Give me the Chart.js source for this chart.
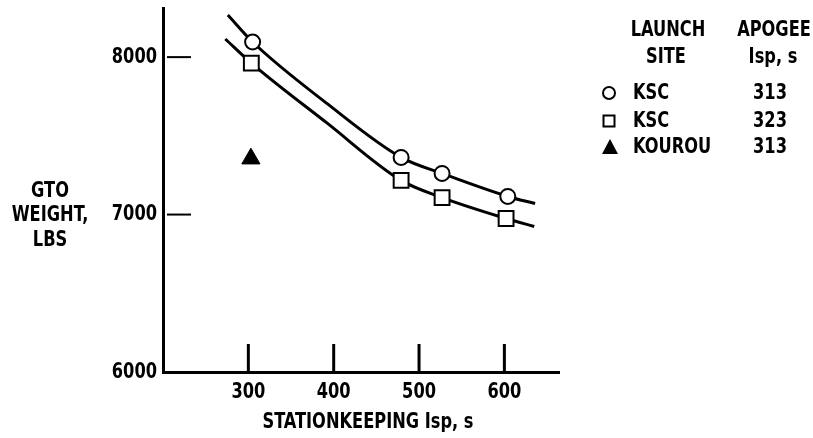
<!DOCTYPE html>
<html>
<head>
<meta charset="utf-8">
<script src="https://cdn.jsdelivr.net/npm/chart.js@4.4.0/dist/chart.umd.min.js"></script>
<style>
  html, body { margin: 0; padding: 0; background: #fff; }
  #wrap { width: 813px; height: 438px; }
</style>
</head>
<body>
<div id="wrap"><canvas id="myChart" width="813" height="438"></canvas></div>
<script>
// ticks
var xTicks = [300, 400, 500, 600];
var yTicks = [6000, 7000, 8000];

// KSC, apogee Isp 313 (circles)
var circleX = [305, 479, 527, 604];
var circleY = [8096, 7363, 7261, 7115];
// KSC, apogee Isp 323 (squares)
var squareX = [303.5, 479, 527, 602];
var squareY = [7962, 7217, 7108, 6975];
// KOUROU, apogee Isp 313 (triangle)
var triX = [303];
var triY = [7355];

// faired curves
var upperX = [276, 305, 392, 479, 527, 604, 636];
var upperY = [8267, 8096, 7706, 7363, 7261, 7115, 7070];
var lowerX = [273, 303.5, 392, 479, 527, 602, 635];
var lowerY = [8115, 7962, 7582, 7217, 7108, 6975, 6924];

var legendSites = ['KSC', 'KSC', 'KOUROU'];
var legendIsp = ['313', '323', '313'];

var FONT = '"DejaVu Sans Condensed", "Liberation Sans Narrow", sans-serif';
var SQUEEZE = 0.82;

function pts(xs, ys) {
    var out = [];
    for (var i = 0; i < xs.length; i++) out.push({ x: xs[i], y: ys[i] });
    return out;
}

// narrow, tall lettering like the original figure
function label(ctx, text, x, y, align) {
    ctx.save();
    ctx.translate(x, y);
    ctx.scale(SQUEEZE, 1);
    ctx.textAlign = align || 'center';
    ctx.fillText(text, 0, 0);
    ctx.restore();
}

var extras = {
    id: 'extras',
    afterDraw: function (chart) {
        var ctx = chart.ctx;
        var xs = chart.scales.x, ys = chart.scales.y;
        var area = chart.chartArea;
        ctx.save();
        ctx.strokeStyle = '#000';
        ctx.fillStyle = '#000';
        ctx.lineCap = 'butt';

        // inside ticks on x axis
        ctx.lineWidth = 3;
        xTicks.forEach(function (v) {
            var px = xs.getPixelForValue(v);
            ctx.beginPath();
            ctx.moveTo(px, area.bottom - 28);
            ctx.lineTo(px, area.bottom);
            ctx.stroke();
        });
        // short ticks on y axis
        ctx.lineWidth = 2;
        [7000, 8000].forEach(function (v) {
            var py = ys.getPixelForValue(v);
            ctx.beginPath();
            ctx.moveTo(area.left + 4, py);
            ctx.lineTo(area.left + 28, py);
            ctx.stroke();
        });

        ctx.font = 'bold 22px ' + FONT;
        ctx.textBaseline = 'middle';

        // tick labels
        xTicks.forEach(function (v) {
            label(ctx, String(v), xs.getPixelForValue(v), area.bottom + 20, 'center');
        });
        yTicks.forEach(function (v) {
            label(ctx, String(v), area.left - 6, ys.getPixelForValue(v), 'right');
        });

        // y title
        label(ctx, 'GTO', 50, 191);
        label(ctx, 'WEIGHT,', 50, 215);
        label(ctx, 'LBS', 50, 240);
        // x title
        label(ctx, 'STATIONKEEPING Isp, s', 368, 422);

        // legend table
        label(ctx, 'LAUNCH', 668, 30);
        label(ctx, 'SITE', 666, 57);
        label(ctx, 'APOGEE', 774, 30);
        label(ctx, 'Isp, s', 773, 57);
        var rows = [93, 121, 147];
        for (var i = 0; i < rows.length; i++) {
            label(ctx, legendSites[i], 633, rows[i], 'left');
            label(ctx, legendIsp[i], 770, rows[i], 'center');
        }
        // legend symbols
        ctx.lineWidth = 2;
        ctx.beginPath();
        ctx.arc(609, rows[0], 6, 0, Math.PI * 2);
        ctx.stroke();
        ctx.strokeRect(603.5, rows[1] - 5.5, 11, 11);
        ctx.beginPath();
        ctx.moveTo(610, rows[2] - 8);
        ctx.lineTo(618, rows[2] + 7);
        ctx.lineTo(602, rows[2] + 7);
        ctx.closePath();
        ctx.fill();
        ctx.restore();
    }
};

var ctx = document.getElementById('myChart').getContext('2d');
var myChart = new Chart(ctx, {
    type: 'scatter',
    data: {
        datasets: [
            {
                data: pts(circleX, circleY),
                pointStyle: 'circle',
                pointRadius: 7.5,
                pointBackgroundColor: '#fff',
                pointBorderColor: '#000',
                pointBorderWidth: 2,
                showLine: false,
                order: 0
            },
            {
                data: pts(squareX, squareY),
                pointStyle: 'rect',
                pointRadius: 10.5,
                pointBackgroundColor: '#fff',
                pointBorderColor: '#000',
                pointBorderWidth: 2,
                showLine: false,
                order: 0
            },
            {
                data: pts(triX, triY),
                pointStyle: 'triangle',
                pointRadius: 10.5,
                pointBackgroundColor: '#000',
                pointBorderColor: '#000',
                pointBorderWidth: 1,
                showLine: false,
                order: 0
            },
            {
                data: pts(upperX, upperY),
                showLine: true,
                pointRadius: 0,
                borderColor: '#000',
                borderWidth: 3,
                cubicInterpolationMode: 'monotone',
                order: 1
            },
            {
                data: pts(lowerX, lowerY),
                showLine: true,
                pointRadius: 0,
                borderColor: '#000',
                borderWidth: 3,
                cubicInterpolationMode: 'monotone',
                order: 1
            }
        ]
    },
    options: {
        responsive: false,
        animation: false,
        events: [],
        layout: { autoPadding: false, padding: { left: 0, top: 8, right: 254, bottom: 0 } },
        plugins: { legend: { display: false }, tooltip: { enabled: false } },
        scales: {
            x: {
                type: 'linear',
                min: 200,
                max: 664,
                afterBuildTicks: function (scale) {
                    scale.ticks = xTicks.map(function (v) { return { value: v }; });
                },
                afterFit: function (scale) { scale.height = 66; },
                grid: { display: false, drawTicks: false },
                border: { display: true, color: '#000', width: 3 },
                ticks: { display: false }
            },
            y: {
                type: 'linear',
                min: 6000,
                max: 8312,
                afterBuildTicks: function (scale) {
                    scale.ticks = yTicks.map(function (v) { return { value: v }; });
                },
                afterFit: function (scale) { scale.width = 163; },
                grid: { display: false, drawTicks: false },
                border: { display: true, color: '#000', width: 3 },
                ticks: { display: false }
            }
        }
    },
    plugins: [extras]
});
</script>
</body>
</html>
